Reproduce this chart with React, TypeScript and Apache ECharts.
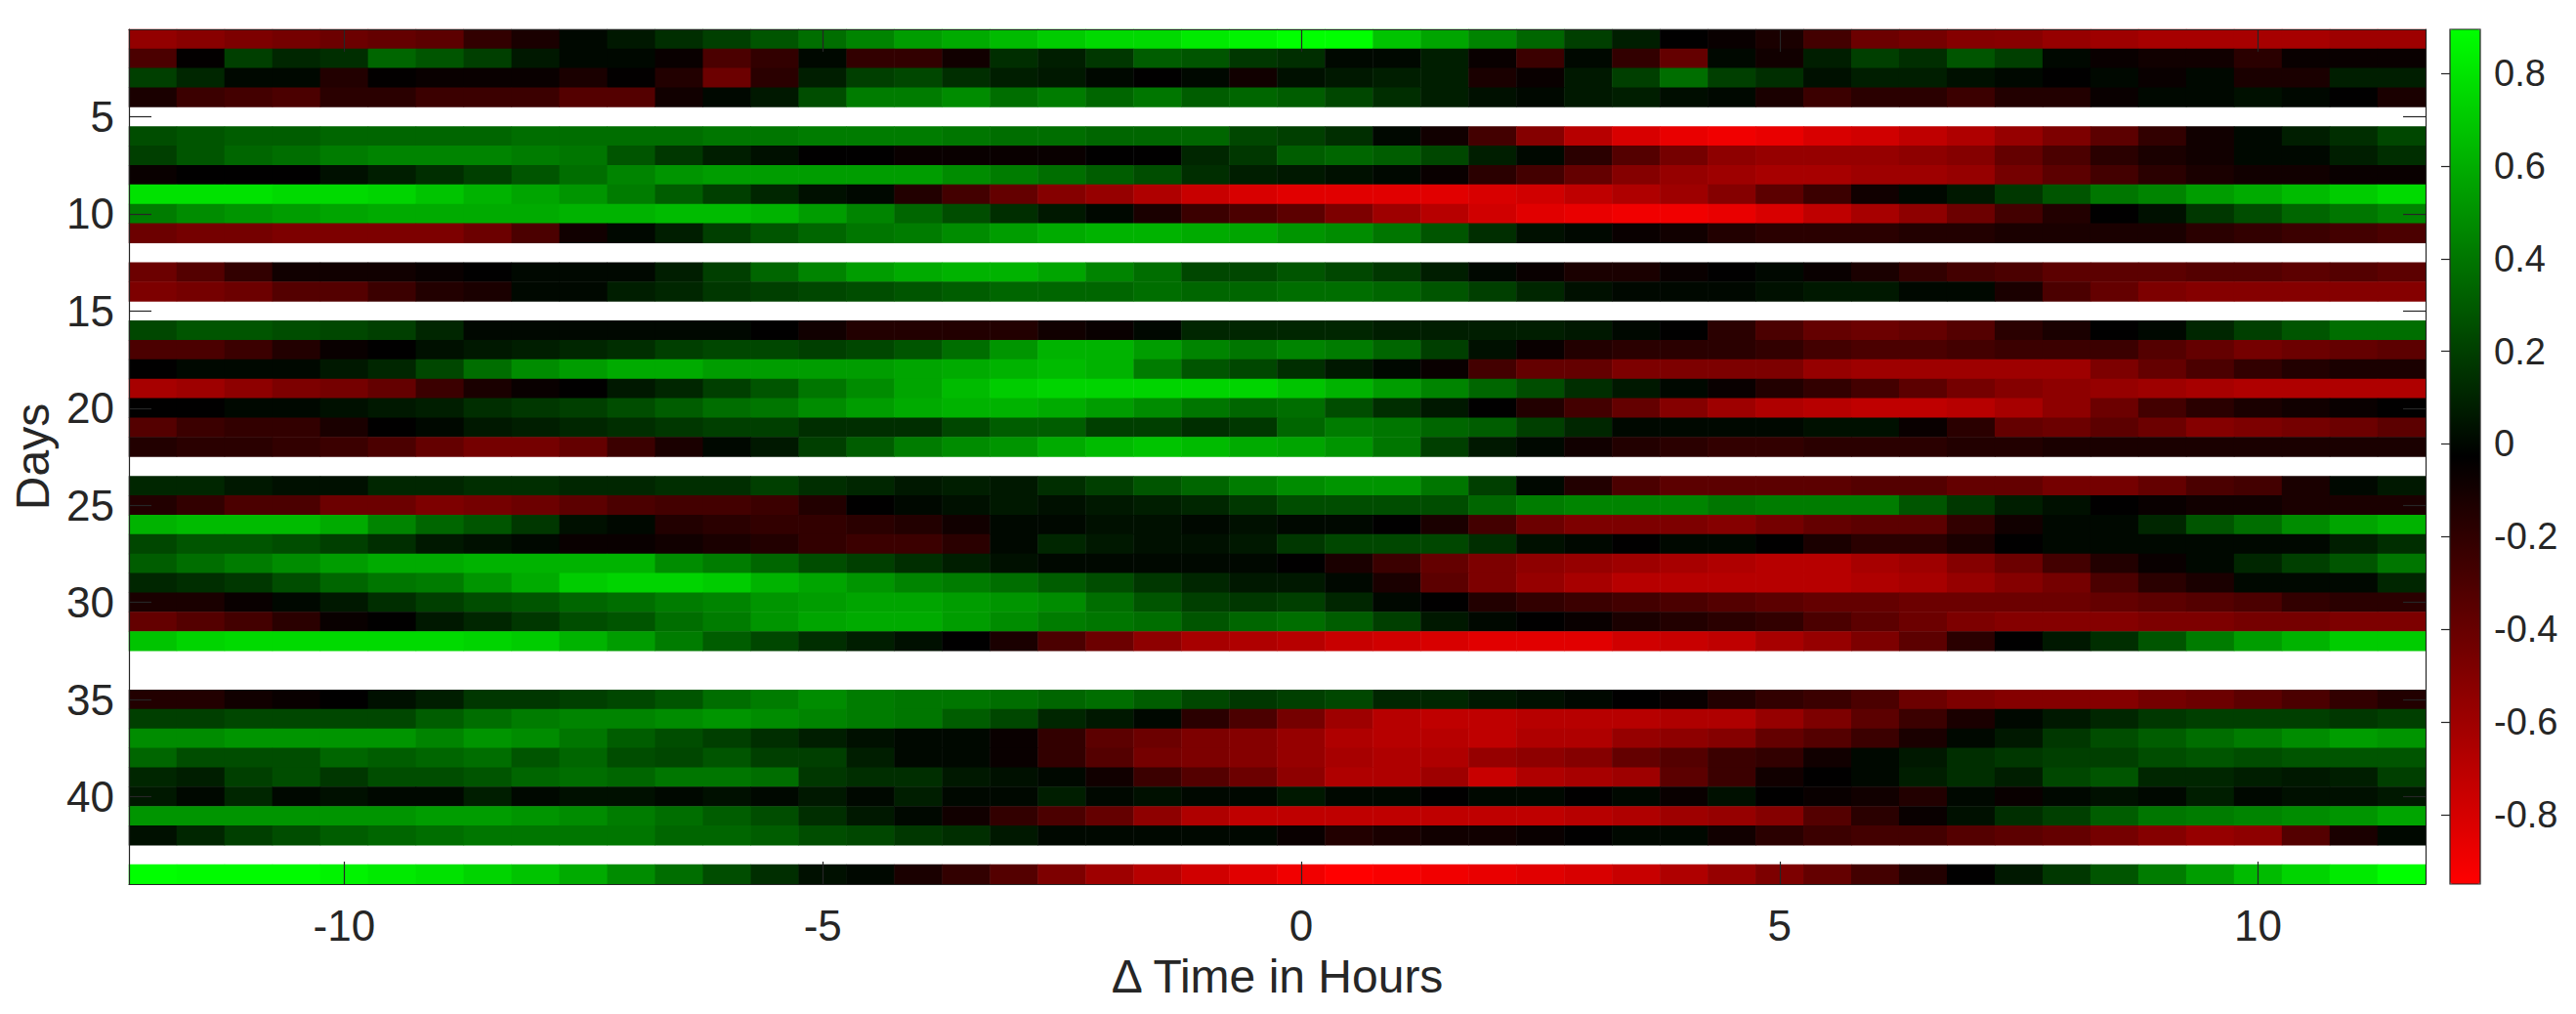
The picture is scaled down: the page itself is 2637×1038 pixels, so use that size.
import React, { useEffect, useRef } from "react";
import * as echarts from "echarts";

// Hour offsets (column centres, half-hour cells)
const HOURS: number[] = [
  -12, -11.5, -11, -10.5, -10, -9.5, -9, -8.5, -8, -7.5, -7, -6.5, -6, -5.5, -5, -4.5,
  -4, -3.5, -3, -2.5, -2, -1.5, -1, -0.5, 0, 0.5, 1, 1.5, 2, 2.5, 3, 3.5,
  4, 4.5, 5, 5.5, 6, 6.5, 7, 7.5, 8, 8.5, 9, 9.5, 10, 10.5, 11, 11.5,
];

// Day numbers (rows)
const DAYS: number[] = [
  1, 2, 3, 4, 5, 6, 7, 8, 9, 10, 11, 12, 13, 14, 15, 16, 17, 18, 19, 20, 21, 22,
  23, 24, 25, 26, 27, 28, 29, 30, 31, 32, 33, 34, 35, 36, 37, 38, 39, 40, 41, 42, 43, 44,
];

const X_TICKS: number[] = [-10, -5, 0, 5, 10];
const Y_TICKS: number[] = [5, 10, 15, 20, 25, 30, 35, 40];
const CB_TICKS: number[] = [-0.8, -0.6, -0.4, -0.2, 0, 0.2, 0.4, 0.6, 0.8];
const CB_MIN = -0.95;
const CB_MAX = 0.895;

// Correlation values per day, in hundredths (null = missing day)
const VALUES: (number[] | null)[] = [
  /* 1 */ [-56,-52,-48,-45,-42,-39,-36,-21,-12,0,6,14,20,28,37,45,54,59,65,71,76,76,82,85,90,90,68,57,45,34,20,8,-3,-6,-12,-27,-42,-45,-51,-52,-57,-60,-63,-63,-63,-63,-60,-60],
  /* 2 */ [-30,-4,20,11,14,34,28,20,6,0,0,-6,-30,-21,0,-21,-21,-9,14,8,17,31,28,17,14,0,0,8,-6,-24,0,-21,-39,0,-9,8,20,14,28,20,0,-6,-9,-9,-18,-6,-6,-6],
  /* 3 */ [20,11,0,0,-15,-4,-6,-6,-6,-12,-4,-15,-42,-18,8,20,23,14,8,6,0,-3,0,-9,3,6,8,8,-12,-6,6,20,37,20,14,3,8,8,3,0,-3,0,-6,0,-12,-12,8,8],
  /* 4 */ [-12,-24,-27,-30,-18,-18,-24,-24,-24,-33,-33,-9,0,6,25,42,42,48,37,42,34,40,31,34,31,23,14,8,3,0,6,8,2,0,-12,-24,-18,-18,-24,-15,-15,-6,0,0,3,0,-3,-12],
  /* 5 */ null,
  /* 6 */ [25,28,31,31,34,34,34,34,37,37,37,37,40,40,42,42,42,40,37,37,34,34,34,23,20,14,0,-9,-27,-51,-69,-81,-87,-90,-87,-81,-78,-72,-66,-57,-48,-36,-21,-9,0,8,14,23],
  /* 7 */ [20,28,34,37,42,45,45,45,42,40,28,17,8,3,-3,-3,-6,-6,-6,-6,-3,-3,11,17,31,34,31,23,8,0,-18,-33,-45,-54,-57,-57,-57,-54,-51,-39,-30,-18,-12,-9,0,0,8,14],
  /* 8 */ [-6,-3,-3,-3,3,8,14,20,28,37,45,51,54,54,54,54,54,48,42,37,31,25,14,8,6,3,0,-6,-18,-27,-39,-51,-57,-60,-63,-63,-60,-60,-57,-45,-36,-27,-18,-12,-9,-9,-6,-6],
  /* 9 */ [79,79,79,76,76,74,68,62,57,51,42,31,20,11,3,0,-15,-27,-39,-51,-57,-66,-75,-81,-84,-84,-84,-84,-81,-78,-72,-66,-60,-51,-36,-24,-9,0,6,17,28,40,45,54,59,65,71,76],
  /* 10 */ [42,48,51,54,57,59,59,59,59,62,62,65,65,62,54,45,34,25,14,6,0,-12,-24,-30,-36,-48,-60,-69,-78,-84,-87,-90,-90,-87,-81,-72,-63,-54,-42,-27,-15,-3,3,17,25,34,40,45],
  /* 11 */ [-42,-45,-45,-48,-48,-48,-48,-42,-30,-9,0,8,20,28,34,40,42,48,54,59,62,62,59,57,51,48,40,28,14,3,0,-6,-9,-15,-18,-18,-18,-15,-15,-12,-12,-12,-12,-18,-21,-24,-27,-30],
  /* 12 */ null,
  /* 13 */ [-42,-33,-21,-9,-9,-9,-6,-3,0,0,0,8,20,34,45,54,59,62,62,57,45,37,23,23,28,23,17,8,0,-6,-12,-12,-6,-3,0,-6,-12,-21,-27,-30,-36,-36,-36,-33,-33,-36,-33,-36],
  /* 14 */ [-48,-45,-42,-33,-33,-24,-15,-12,0,0,8,11,17,20,23,25,28,31,34,34,34,37,34,34,37,37,34,28,20,11,3,0,0,0,3,6,6,0,0,-12,-30,-39,-48,-51,-51,-51,-51,-51],
  /* 15 */ null,
  /* 16 */ [23,28,28,25,23,20,11,0,0,0,0,0,0,-3,-9,-15,-15,-15,-15,-9,-6,0,11,11,11,11,8,8,8,8,6,0,-3,-18,-30,-39,-42,-39,-33,-18,-12,-3,0,11,20,28,37,37],
  /* 17 */ [-30,-30,-24,-15,-6,-3,3,6,8,11,14,20,23,23,20,23,28,37,51,62,62,54,45,40,45,42,34,20,3,-6,-15,-18,-18,-18,-21,-27,-30,-30,-27,-24,-24,-24,-33,-39,-45,-42,-39,-36],
  /* 18 */ [-3,0,0,0,6,11,23,37,48,54,59,59,54,54,54,54,57,59,62,65,62,42,28,23,14,6,0,-6,-27,-39,-39,-48,-48,-48,-48,-57,-60,-60,-60,-60,-60,-48,-39,-30,-21,-15,-12,-12],
  /* 19 */ [-63,-60,-54,-48,-45,-39,-24,-12,-6,-3,6,11,20,28,40,48,57,65,71,74,74,74,74,74,68,62,54,45,34,25,14,6,0,-6,-15,-21,-27,-36,-45,-51,-54,-57,-60,-63,-66,-66,-66,-66],
  /* 20 */ [-3,-3,0,0,3,6,8,14,17,20,25,31,37,40,48,54,59,62,62,59,54,48,40,34,37,25,14,6,-3,-15,-27,-39,-51,-60,-66,-69,-72,-72,-69,-63,-54,-42,-27,-18,-12,-9,-6,-3],
  /* 21 */ [-33,-24,-21,-21,-12,-3,0,6,8,11,14,17,20,20,14,14,14,23,31,31,20,20,14,17,34,42,40,34,31,20,11,0,0,0,0,3,3,-6,-18,-39,-42,-36,-42,-51,-48,-45,-42,-36],
  /* 22 */ [-15,-18,-18,-21,-24,-30,-39,-45,-45,-39,-24,-12,0,6,20,31,42,48,51,59,65,68,65,59,57,51,40,20,6,0,-9,-15,-18,-21,-21,-18,-18,-18,-15,-15,-12,-12,-12,-12,-12,-12,-12,-12],
  /* 23 */ null,
  /* 24 */ [11,11,6,3,3,11,11,14,14,11,11,14,14,20,14,11,6,8,6,14,20,28,34,42,48,51,51,40,20,0,-15,-30,-36,-36,-36,-36,-33,-33,-39,-39,-45,-45,-39,-30,-27,-12,0,6],
  /* 25 */ [-15,-21,-30,-30,-42,-42,-48,-45,-42,-36,-30,-27,-27,-24,-15,-3,0,3,6,3,6,8,11,17,25,25,25,25,34,42,45,45,45,40,42,42,42,28,17,8,3,-3,-6,-9,-9,-12,-12,-12],
  /* 26 */ [62,65,65,65,59,45,34,28,17,3,0,-15,-18,-21,-21,-18,-15,-9,0,0,3,3,0,3,0,0,-3,-12,-27,-42,-48,-48,-48,-51,-45,-39,-36,-36,-21,-9,0,0,11,28,37,48,57,62],
  /* 27 */ [23,28,28,25,20,14,6,3,0,-6,-6,-9,-12,-15,-21,-24,-24,-18,0,11,6,3,3,6,17,23,23,23,14,3,0,-3,0,0,-3,-12,-18,-18,-12,-3,0,0,0,0,0,0,8,14],
  /* 28 */ [31,37,42,48,54,59,59,62,62,62,62,48,42,34,25,20,14,8,3,0,0,0,0,0,-3,-12,-24,-39,-48,-54,-57,-60,-63,-66,-69,-69,-63,-60,-51,-42,-27,-15,-6,0,11,20,28,40],
  /* 29 */ [11,14,17,25,34,40,42,51,59,71,74,74,71,62,57,51,45,42,37,31,25,17,11,6,6,0,-12,-36,-48,-57,-63,-69,-69,-69,-69,-69,-66,-63,-57,-51,-45,-30,-18,-12,0,0,0,11],
  /* 30 */ [-12,-12,-6,0,6,14,20,25,28,34,37,42,45,51,54,57,57,54,51,48,37,28,20,17,20,11,0,-3,-15,-21,-24,-27,-30,-33,-36,-39,-39,-42,-42,-42,-42,-39,-36,-33,-30,-21,-18,-18],
  /* 31 */ [-39,-33,-27,-18,-6,-3,6,11,17,25,28,37,42,51,57,59,59,54,48,42,40,37,28,34,37,31,20,6,0,-3,-6,-12,-15,-18,-21,-30,-36,-42,-48,-51,-51,-51,-48,-48,-45,-45,-48,-48],
  /* 32 */ [68,74,76,76,76,76,76,74,71,62,54,42,31,23,14,8,3,-3,-12,-30,-42,-54,-63,-66,-69,-75,-78,-81,-84,-84,-84,-78,-75,-72,-63,-57,-48,-36,-18,-3,6,14,28,42,54,62,71,71],
  /* 33 */ null,
  /* 34 */ null,
  /* 35 */ [-15,-15,-9,-6,-3,3,8,17,17,20,23,28,37,42,48,42,40,40,37,34,37,31,23,17,20,23,11,11,6,3,0,-3,-6,-15,-21,-24,-30,-42,-48,-51,-51,-51,-45,-42,-36,-30,-21,-15],
  /* 36 */ [20,20,23,23,23,23,31,37,42,45,45,48,51,48,45,42,40,31,23,11,6,0,-18,-30,-45,-60,-69,-72,-72,-69,-69,-69,-66,-66,-57,-48,-36,-24,-12,0,6,11,17,20,20,20,17,20],
  /* 37 */ [48,48,51,51,51,51,45,51,48,40,31,25,20,14,8,3,0,0,-6,-21,-36,-42,-48,-51,-57,-66,-69,-69,-72,-66,-66,-57,-54,-51,-39,-33,-24,-12,0,6,17,25,31,37,42,48,54,51],
  /* 38 */ [34,25,25,25,34,31,34,37,28,34,25,23,28,20,20,8,0,0,-6,-21,-33,-45,-48,-51,-57,-63,-66,-66,-57,-54,-51,-39,-33,-24,-21,-9,0,6,14,17,20,20,25,28,25,28,28,28],
  /* 39 */ [11,8,20,25,17,25,25,28,34,37,34,40,40,37,17,14,14,6,3,0,-9,-24,-33,-42,-54,-66,-66,-60,-75,-66,-63,-60,-36,-24,-9,-3,0,8,14,8,23,28,11,11,8,6,8,20],
  /* 40 */ [6,0,11,0,3,0,0,8,0,3,3,0,3,0,6,0,8,0,0,8,0,3,0,0,6,0,0,-3,0,0,-3,0,-6,3,-3,-6,-9,-15,0,-6,0,3,0,8,0,3,3,6],
  /* 41 */ [51,51,51,51,51,51,54,54,51,48,42,37,31,25,14,6,0,-9,-21,-30,-39,-54,-66,-72,-72,-72,-72,-72,-72,-72,-69,-66,-60,-57,-51,-33,-18,-6,3,14,20,31,40,42,45,48,51,57],
  /* 42 */ [3,11,20,25,31,34,37,40,40,40,40,34,34,31,25,23,17,14,6,0,0,0,0,0,-6,-15,-12,-9,-9,-6,-3,0,0,-9,-18,-24,-27,-27,-33,-36,-39,-45,-51,-57,-54,-33,-12,0],
  /* 43 */ null,
  /* 44 */ [90,88,88,88,85,82,79,74,68,59,48,37,25,14,3,0,-12,-21,-33,-48,-60,-69,-78,-84,-90,-95,-93,-90,-87,-84,-81,-75,-66,-57,-48,-39,-27,-15,-3,6,17,28,42,54,65,74,82,90],
];

const FONT = "'Liberation Sans', Arial, Helvetica, sans-serif";
const INK = "#262626";

export default function App() {
  const ref = useRef<HTMLDivElement>(null);

  useEffect(() => {
    document.body.style.margin = "0";
    document.body.style.overflow = "hidden";
    if (!ref.current) return;
    const chart = echarts.init(ref.current, undefined, { renderer: "svg" });

    const data: number[][] = [];
    VALUES.forEach((row, r) => {
      if (!row) return;
      row.forEach((v, c) => data.push([c, r, v / 100]));
    });

    const hourLabels = HOURS.map((h) => String(h));
    const dayLabels = DAYS.map((d) => String(d));
    const xShow = (_i: number, v: string) => X_TICKS.includes(Number(v));
    const yShow = (_i: number, v: string) => Y_TICKS.includes(Number(v));

    const tick = (show: (i: number, v: string) => boolean) => ({
      show: true,
      inside: true,
      length: 23,
      alignWithLabel: true,
      interval: show,
      lineStyle: { color: INK, width: 1.2 },
    });
    const line = { show: true, onZero: false, lineStyle: { color: INK, width: 1.2 } };

    chart.setOption({
      animation: false,
      backgroundColor: "#ffffff",
      textStyle: { fontFamily: FONT },
      grid: [
        { left: 132, top: 30, width: 2351, height: 875 },
        {
          left: 2508,
          top: 30,
          width: 31,
          height: 875,
          show: true,
          borderColor: INK,
          borderWidth: 1.2,
          backgroundColor: "transparent",
          z: 10,
        },
      ],
      xAxis: [
        {
          type: "category",
          gridIndex: 0,
          data: hourLabels,
          position: "bottom",
          z: 10,
          axisLine: line,
          axisTick: tick(xShow),
          axisLabel: {
            interval: xShow,
            margin: 20,
            fontSize: 44,
            color: INK,
            fontFamily: FONT,
          },
          splitLine: { show: false },
          name: "\u0394 Time in Hours",
          nameLocation: "middle",
          nameGap: 70,
          nameTextStyle: { fontSize: 48, color: INK, fontFamily: FONT },
        },
        {
          type: "category",
          gridIndex: 0,
          data: hourLabels,
          position: "top",
          z: 10,
          axisLine: line,
          axisTick: tick(xShow),
          axisLabel: { show: false },
          splitLine: { show: false },
        },
        { type: "value", gridIndex: 1, show: false, min: 0, max: 1 },
      ],
      yAxis: [
        {
          type: "category",
          gridIndex: 0,
          data: dayLabels,
          inverse: true,
          position: "left",
          z: 10,
          axisLine: line,
          axisTick: tick(yShow),
          axisLabel: {
            interval: yShow,
            margin: 15,
            fontSize: 44,
            color: INK,
            fontFamily: FONT,
          },
          splitLine: { show: false },
          name: "Days",
          nameLocation: "middle",
          nameGap: 72,
          nameTextStyle: { fontSize: 48, color: INK, fontFamily: FONT },
        },
        {
          type: "category",
          gridIndex: 0,
          data: dayLabels,
          inverse: true,
          position: "right",
          z: 10,
          axisLine: line,
          axisTick: tick(yShow),
          axisLabel: { show: false },
          splitLine: { show: false },
        },
        {
          type: "value",
          gridIndex: 1,
          min: CB_MIN,
          max: CB_MAX,
          position: "right",
          z: 10,
          axisLine: { show: false },
          splitLine: { show: false },
          axisTick: {
            show: true,
            inside: true,
            length: 9,
            customValues: CB_TICKS,
            lineStyle: { color: INK, width: 1.2 },
          },
          axisLabel: {
            customValues: CB_TICKS,
            margin: 14,
            fontSize: 38,
            color: INK,
            fontFamily: FONT,
            formatter: (v: number) => (Math.abs(v) < 1e-9 ? "0" : v.toFixed(1)),
          },
        },
      ],
      visualMap: {
        type: "continuous",
        seriesIndex: 0,
        min: CB_MIN,
        max: CB_MAX,
        calculable: false,
        orient: "vertical",
        left: 2508,
        top: 30,
        padding: 0,
        itemWidth: 31,
        itemHeight: 875,
        showLabel: false,
        inRange: { color: ["#ff0000", "#000000", "#00ff00"] },
      },
      series: [
        {
          type: "heatmap",
          xAxisIndex: 0,
          yAxisIndex: 0,
          data,
          progressive: 0,
          itemStyle: { borderWidth: 0 },
          emphasis: { disabled: true },
        },
      ],
    });

    return () => chart.dispose();
  }, []);

  return <div ref={ref} style={{ width: 2637, height: 1038 }} />;
}
